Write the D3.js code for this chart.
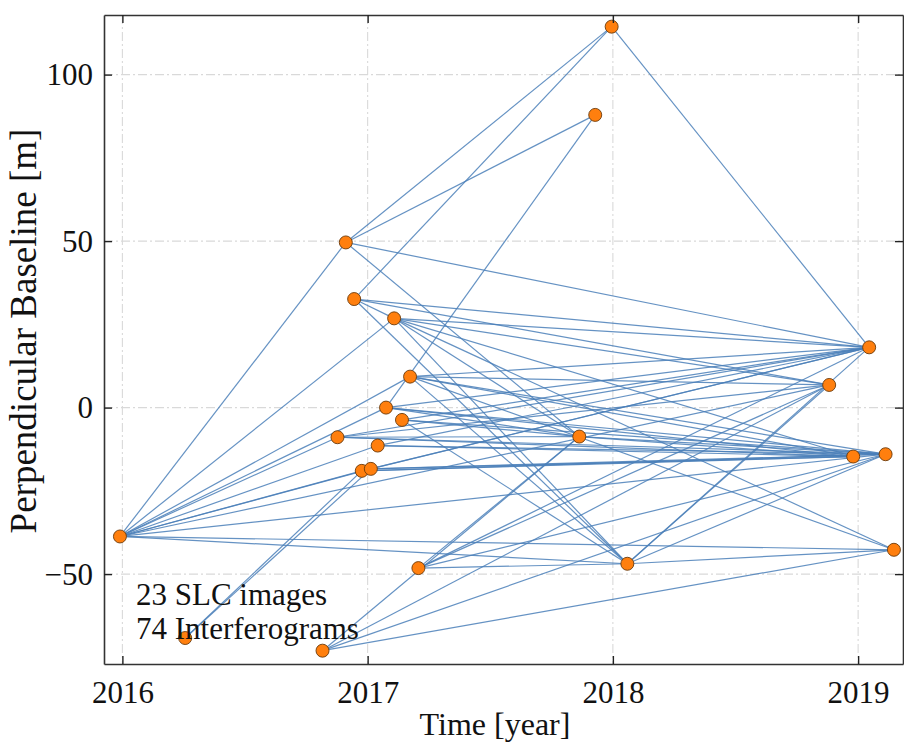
<!DOCTYPE html>
<html>
<head>
<meta charset="utf-8">
<script src="https://cdn.jsdelivr.net/npm/d3@7/dist/d3.min.js"></script>
<style>
  body { margin: 0; background: #fff; }
  svg { display: block; font-family: "Liberation Serif", "Times New Roman", serif; }
</style>
</head>
<body>
<div class="chart"></div>
<script>
// acquisition dates (decimal year) and perpendicular baselines [m]
var dates = [2015.99, 2016.256, 2016.816, 2016.877, 2016.911, 2016.945, 2016.976, 2017.013,
  2017.041, 2017.075, 2017.108, 2017.14, 2017.173, 2017.207, 2017.863, 2017.928, 2017.995,
  2018.059, 2018.882, 2018.98, 2019.045, 2019.112, 2019.146];
var bperp = [-38.7, -69.2, -73.0, -8.9, 49.6, 32.6, -19.0, -18.4, -11.4, 0.0, 26.8, -3.7,
  9.3, -48.2, -8.7, 87.9, 114.4, -46.9, 6.8, -14.7, 18.1, -14.0, -42.7];

// interferogram pairs (index into dates/bperp)
var pairs = [
  [0,4],[0,10],[0,12],[0,9],[0,3],[0,8],[0,6],[0,7],[0,18],[0,21],[0,22],[0,17],
  [1,6],[1,7],
  [2,14],[2,18],[2,21],[2,22],
  [3,20],[3,18],[3,19],[3,21],[3,14],
  [4,16],[4,15],[4,20],[4,14],
  [5,16],[5,10],[5,20],[5,18],[5,17],
  [6,20],[6,19],[6,21],
  [7,20],[7,19],[7,21],
  [8,20],[8,21],[8,19],
  [9,15],[9,20],[9,19],[9,21],[9,14],
  [10,20],[10,18],[10,19],[10,14],[10,17],[10,22],
  [11,20],[11,21],[11,14],[11,17],
  [12,20],[12,18],[12,19],[12,21],[12,17],[12,22],
  [13,14],[13,20],[13,18],[13,21],[13,17],
  [14,21],[14,19],
  [17,20],[17,18],[17,21],[17,22],
  [16,20]
];

var xTicks = [2016, 2017, 2018, 2019];
var yTicks = [-50, 0, 50, 100];

const width = 904
const height = 743
const mLeft = 104, mRight = 903, mTop = 15, mBottom = 664

let x = d3.scaleLinear().domain([2015.925, 2019.183]).range([mLeft, mRight])
let y = d3.scaleLinear().domain([-77.0, 117.9]).range([mBottom, mTop])

let svg = d3.select('.chart')
  .append('svg')
  .attr('width', width)
  .attr('height', height)

// grid
let grid = svg.append('g')
  .attr('stroke', '#d9d9d9')
  .attr('stroke-width', 1.1)
  .attr('stroke-dasharray', '9,3,2,3')
grid.selectAll('.gx')
  .data(xTicks)
  .enter()
  .append('line')
  .attr('x1', d => x(d)).attr('x2', d => x(d))
  .attr('y1', mTop).attr('y2', mBottom)
grid.selectAll('.gy')
  .data(yTicks)
  .enter()
  .append('line')
  .attr('x1', mLeft).attr('x2', mRight)
  .attr('y1', d => y(d)).attr('y2', d => y(d))

// interferograms
svg.append('g')
  .selectAll('line')
  .data(pairs)
  .enter()
  .append('line')
  .attr('x1', d => x(dates[d[0]]))
  .attr('y1', d => y(bperp[d[0]]))
  .attr('x2', d => x(dates[d[1]]))
  .attr('y2', d => y(bperp[d[1]]))
  .attr('stroke', '#4a7fb8')
  .attr('stroke-opacity', 0.85)
  .attr('stroke-width', 1.2)

// SLC images
svg.append('g')
  .selectAll('circle')
  .data(dates)
  .enter()
  .append('circle')
  .attr('cx', d => x(d))
  .attr('cy', (d, i) => y(bperp[i]))
  .attr('r', 6.5)
  .attr('fill', '#ff7f0e')
  .attr('stroke', '#6b3a0a')
  .attr('stroke-width', 0.9)

// axes (ticks pointing inward on all sides)
let fmt = d => d < 0 ? '\u2212' + Math.abs(d) : String(d)
let axB = svg.append('g').attr('transform', `translate(0,${mBottom})`)
  .call(d3.axisBottom(x).tickValues(xTicks).tickSizeInner(-8).tickSizeOuter(0).tickPadding(17).tickFormat(d3.format('d')))
let axT = svg.append('g').attr('transform', `translate(0,${mTop})`)
  .call(d3.axisTop(x).tickValues(xTicks).tickSizeInner(-8).tickSizeOuter(0).tickFormat(''))
let axL = svg.append('g').attr('transform', `translate(${mLeft},0)`)
  .call(d3.axisLeft(y).tickValues(yTicks).tickSizeInner(-8).tickSizeOuter(0).tickPadding(11).tickFormat(fmt))
let axR = svg.append('g').attr('transform', `translate(${mRight},0)`)
  .call(d3.axisRight(y).tickValues(yTicks).tickSizeInner(-8).tickSizeOuter(0).tickFormat(''))

;[axB, axT, axL, axR].forEach(a => {
  a.select('.domain').attr('stroke', '#333').attr('stroke-width', 1.6)
  a.selectAll('.tick line').attr('stroke', '#222').attr('stroke-width', 1.4)
  a.selectAll('.tick text')
    .attr('fill', '#111')
    .style('font-family', '"Liberation Serif", serif')
    .style('font-size', '31px')
})

// labels
svg.append('text')
  .attr('x', 495)
  .attr('y', 735)
  .attr('text-anchor', 'middle')
  .style('font-size', '32px')
  .attr('fill', '#111')
  .text('Time [year]')

svg.append('text')
  .attr('transform', 'translate(36,331) rotate(-90)')
  .attr('text-anchor', 'middle')
  .style('font-size', '37px')
  .attr('fill', '#111')
  .text('Perpendicular Baseline [m]')

svg.append('text')
  .attr('x', 136)
  .attr('y', 605)
  .style('font-size', '31px')
  .attr('fill', '#111')
  .text('23 SLC images')
svg.append('text')
  .attr('x', 136)
  .attr('y', 639)
  .style('font-size', '31px')
  .attr('fill', '#111')
  .text('74 Interferograms')
</script>
</body>
</html>
